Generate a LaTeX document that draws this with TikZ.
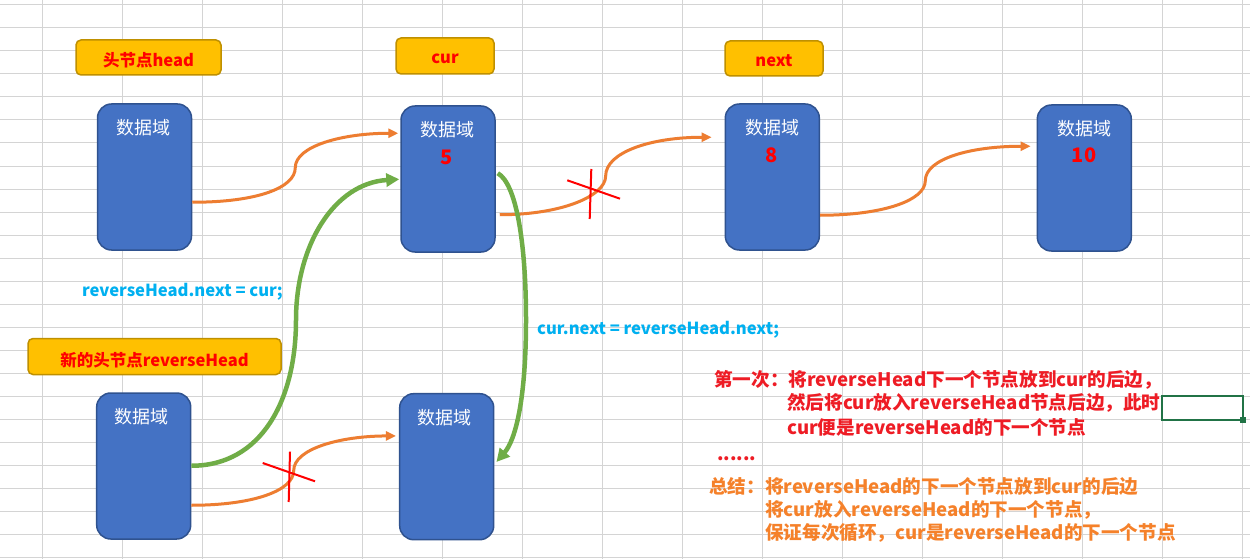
\documentclass[tikz,border=0pt]{standalone}
\usepackage{fontspec}
\setmainfont{Noto Sans CJK SC}
\usetikzlibrary{arrows.meta,calc}
\definecolor{gridc}{HTML}{D4D4D4}
\definecolor{boxf}{HTML}{4472C4}
\definecolor{boxb}{HTML}{2F528F}
\definecolor{labf}{HTML}{FFC000}
\definecolor{labb}{HTML}{BF9000}
\definecolor{orng}{HTML}{ED7D31}
\definecolor{grn}{HTML}{70AD47}
\definecolor{codeblue}{HTML}{00B0F0}
\definecolor{descred}{HTML}{EE1C25}
\definecolor{descorange}{HTML}{F5812A}
\definecolor{selgreen}{HTML}{217346}
\begin{document}
\begin{tikzpicture}[x=1pt,y=-1pt,
  databox/.style={draw=boxb, fill=boxf, line width=1.5pt, rounded corners=14pt,
    minimum width=94pt, minimum height=146pt, inner sep=0pt},
  labbox/.style={draw=labb, fill=labf, line width=1.5pt, rounded corners=5pt, inner sep=0pt},
  labtxt/.style={text=red, inner sep=0pt, font=\fontsize{16.5}{16.5}\selectfont\bfseries},
  dtxt/.style={text=white, inner sep=0pt, font=\fontsize{18}{18}\selectfont},
  numtxt/.style={text=red, inner sep=0pt, font=\fontsize{20}{20}\selectfont\bfseries},
  codetxt/.style={text=codeblue, inner sep=0pt, anchor=west, font=\fontsize{16.6}{16.6}\selectfont\bfseries},
  redline/.style={text=descred, inner sep=0pt, anchor=west, font=\fontsize{18.6}{18.6}\selectfont\bfseries},
  orline/.style={text=descorange, inner sep=0pt, anchor=west, font=\fontsize{18.6}{18.6}\selectfont\bfseries},
  oarrow/.style={draw=orng, line width=3pt, -{Triangle[length=10pt,width=9pt]}},
  garrow/.style={draw=grn, line width=4.5pt, -{Triangle[length=13pt,width=13pt]}},
  crossline/.style={draw=red, line width=2pt}
]
\useasboundingbox (0,0) rectangle (1250,559);
\fill[white] (0,0) rectangle (1250,559);
% spreadsheet grid
\foreach \i in {0,...,15} \draw[gridc, line width=1pt] (42+80*\i,0) -- (42+80*\i,559);
\foreach \j in {0,...,24} \draw[gridc, line width=1pt] (0,5+23*\j) -- (1250,5+23*\j);

% yellow labels
\node[labbox, minimum width=145pt, minimum height=35pt] (Lhead) at (148.5,57.5) {};
\node[labbox, minimum width=98pt, minimum height=36pt] (Lcur) at (445,56) {};
\node[labbox, minimum width=98pt, minimum height=35pt] (Lnext) at (774,58.5) {};
\node[labbox, minimum width=253pt, minimum height=36pt] (Lrev) at (154.5,356.5) {};
\node[labtxt] (LheadT) at (148.5,60.5) {头节点head};
\node[labtxt] (LcurT) at (445,59) {cur};
\node[labtxt] (LnextT) at (774,61) {next};
\node[labtxt] (LrevT) at (154.5,360) {新的头节点reverseHead};

% data boxes
\node[databox] (A) at (144.5,177) {};
\node[databox] (B) at (448,179) {};
\node[databox] (C) at (772.3,177) {};
\node[databox] (D) at (1084.3,178) {};
\node[databox] (E) at (143.7,466) {};
\node[databox] (F) at (446.7,466.7) {};

\node[dtxt] (At) at (143,128) {数据域};
\node[dtxt] (Bt) at (447,129.5) {数据域};
\node[numtxt] (Bn) at (447,157) {5};
\node[dtxt] (Ct) at (772,128) {数据域};
\node[numtxt] (Cn) at (772,155) {8};
\node[dtxt] (Dt) at (1084,128.5) {数据域};
\node[numtxt] (Dn) at (1084,155.5) {10};
\node[dtxt] (Et) at (141,416.5) {数据域};
\node[dtxt] (Ft) at (444,418) {数据域};

% connector end points
\coordinate (a1) at ($(A.north east)+(0,99)$);
\coordinate (b1) at ($(B.north west)+(-2,28)$);
\coordinate (b2) at ($(B.north east)+(4,109.5)$);
\coordinate (c1) at ($(C.north west)+(-13,34)$);
\coordinate (c2) at ($(C.north east)+(0,112)$);
\coordinate (d1) at ($(D.north west)+(-6,42)$);
\coordinate (e1) at ($(E.north east)+(0,113)$);
\coordinate (e2) at ($(E.north east)+(0,73.5)$);
\coordinate (f1) at ($(F.north west)+(-3,43)$);
\coordinate (b3) at ($(B.north west)+(-1,74)$);
\coordinate (b4) at ($(B.north east)+(2,68)$);
\coordinate (f2) at ($(F.north east)+(2,69)$);

% orange curved connectors
\draw[oarrow] (a1) .. controls +(65,0) and +(0,20) .. ($(a1)!0.5!(b1)$) .. controls +(0,-22) and +(-55,0) .. (b1);
\draw[oarrow] (b2) .. controls +(62,0) and +(0,20) .. ($(b2)!0.5!(c1)$) .. controls +(0,-24) and +(-60,0) .. (c1);
\draw[oarrow] (c2) .. controls +(62,0) and +(0,20) .. ($(c2)!0.5!(d1)$) .. controls +(0,-22) and +(-60,0) .. (d1);
\draw[oarrow] (e1) .. controls +(62,0) and +(0,20) .. ($(e1)!0.5!(f1)$) .. controls +(0,-22) and +(-55,0) .. (f1);

% green connectors
\draw[garrow] (e2) .. controls +(70,0) and +(0,80) .. (296,320) .. controls +(0,-75) and +(-65,4) .. (b3);
\draw[garrow] (b4) .. controls +(18,10) and +(0,-80) .. (526,320) .. controls +(0,80) and +(19,-22) .. (f2);

% red crosses
\coordinate (x1a) at (567.3,180.3); \coordinate (x1b) at (620,198.7);
\coordinate (x1c) at (591.3,169);   \coordinate (x1d) at (589.7,219);
\draw[crossline] (x1a) -- (x1b);
\draw[crossline] (x1c) -- (x1d);
\coordinate (x2a) at (262.7,463);   \coordinate (x2b) at (315,481.3);
\coordinate (x2c) at (290,451.7);   \coordinate (x2d) at (288.7,502);
\draw[crossline] (x2a) -- (x2b);
\draw[crossline] (x2c) -- (x2d);

% code texts
\node[codetxt] (code1) at (82,292) {reverseHead.next = cur;};
\node[codetxt] (code2) at (537,330) {cur.next = reverseHead.next;};

% description
\node[redline] (r1) at (714,380) {第一次：将reverseHead下一个节点放到cur的后边，};
\node[redline] (r2) at (787,403) {然后将cur放入reverseHead节点后边，此时};
\node[redline] (r3) at (787,427) {cur便是reverseHead的下一个节点};
\node[redline, anchor=base west] (dots) at (717,460) {......};
\node[orline] (o1) at (709,487) {总结：将reverseHead的下一个节点放到cur的后边};
\node[orline] (o2) at (765,510) {将cur放入reverseHead的下一个节点，};
\node[orline] (o3) at (765,533) {保证每次循环，cur是reverseHead的下一个节点};

% selected cell
\draw[selgreen, line width=2pt] (1162,396) rectangle (1242.5,420);
\fill[selgreen] (1240,417) rectangle (1246,423);
\end{tikzpicture}
\end{document}
